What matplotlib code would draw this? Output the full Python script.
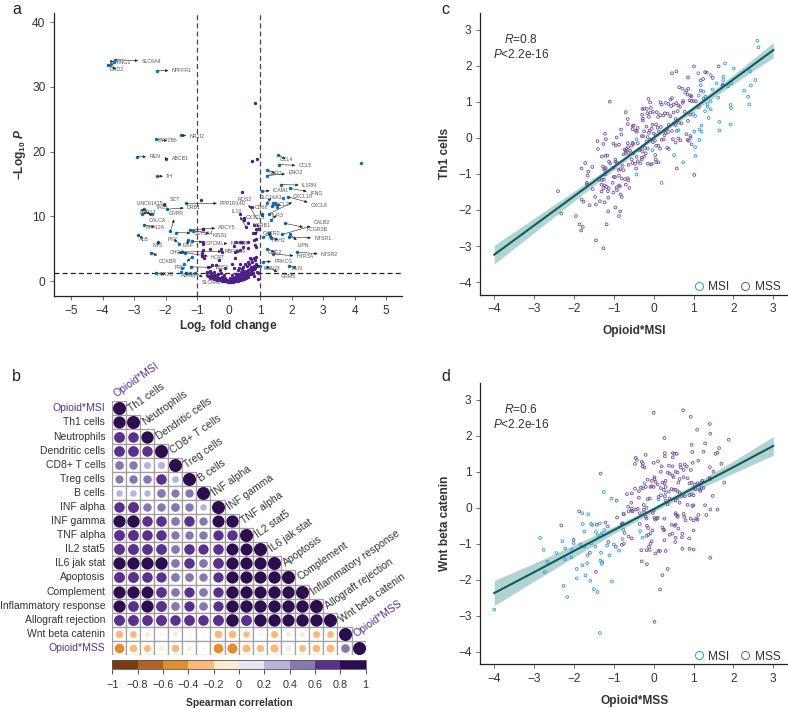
import numpy as np
import matplotlib
matplotlib.use("Agg")
import matplotlib.pyplot as plt
from matplotlib.colors import ListedColormap, BoundaryNorm
from matplotlib.cm import ScalarMappable
from matplotlib.lines import Line2D
from matplotlib.patches import Rectangle

plt.rcParams["font.family"] = ["Liberation Sans", "DejaVu Sans"]
plt.rcParams["mathtext.fontset"] = "custom"
plt.rcParams["mathtext.rm"] = "Liberation Sans"
plt.rcParams["mathtext.it"] = "Liberation Sans:italic"
plt.rcParams["mathtext.bf"] = "Liberation Sans:bold"
plt.rcParams["mathtext.bfit"] = "Liberation Sans:italic:bold"

W, H = 788, 709
TXT = "#333333"
BLUE = "#0b78be"
PURPLE = "#4b1f86"
RING_BLUE = "#2e9bd6"
RING_PURPLE = "#75509f"
LINE = "#0b5f5c"
BAND = "#b3d3d2"

# panel a, volcano plot
volcano_sig = [(-3.84,33.4),(-3.74,33.6),(-3.60,34.2),(-3.65,33.9),(-2.26,32.5),(-1.52,22.5),(-2.29,21.9),(-2.91,19.2),
    (-1.98,18.9),(-2.27,16.2),(-2.05,11.8),(-1.96,11.1),(-1.36,12.0),(-2.70,11.1),(-2.74,10.4),(-2.44,10.4),(-2.68,8.7),
    (-2.87,7.1),(-2.23,6.1),(-1.85,7.7),(-1.67,7.5),(-1.24,7.9),(-1.12,7.8),(-1.57,5.8),(-1.30,6.3),(-1.17,6.2),(-1.49,4.5),
    (-1.38,4.4),(-2.46,4.4),(-1.17,3.7),(-1.20,2.2),(-1.43,2.6),(-1.51,1.4),(-2.30,1.3),(-1.35,1.2),(-1.06,1.3),(-1.22,1.2),
    (-1.49,2.0),(1.57,19.5),(1.59,18.0),(1.23,17.2),(1.23,16.3),(4.21,18.2),(1.65,14.9),(1.95,14.3),(1.05,13.9),(1.74,12.9),
    (1.88,13.0),(1.21,12.1),(1.40,12.1),(1.47,12.1),(1.55,11.5),(1.37,11.6),(1.07,10.4),(1.29,10.4),(1.35,9.5),(1.80,8.9),
    (1.70,7.2),(1.95,7.2),(1.90,6.8),(1.29,7.4),(1.32,6.9),(1.34,6.6),(1.10,6.8),(1.23,5.0),(1.40,4.2),(2.16,4.5),(1.10,3.0),
    (1.93,2.4),(1.00,2.3),(1.21,2.2)]

volcano_ns = [(-.87,12.6),(-.80,8.1),(-.80,5.8),(-.80,4.8),(-.78,3.5),(.84,27.5),(.74,18.5),(.91,18.9),(.43,13.7),(.75,11.4),
    (.37,10.4),(.49,9.5),(.55,8.4),(.82,8.7),(.87,8.1),(.83,7.4),(.86,6.5),(.42,6.1),(.24,6.0),(.45,5.3),(.26,4.7),(.50,9.7),
    (.63,8.9),(.77,7.5),(.95,8.1),(.79,6.3),(.61,6.1),(.61,5.1),(.84,5.6),(.87,5.2),(.37,6.0),(.18,5.45),(.37,4.8),(.21,4.5),
    (-.22,4.5),(-.24,5.0),(-.59,5.0),(-.83,4.4),(-.83,3.9),(-.82,6.1),(-.81,8.0),(-.32,3.2),(.21,3.5),(.10,2.6),(.37,2.6),
    (.18,2.1),(.29,1.7),(.45,2.2),(.58,2.3),(.74,3.0),(.79,3.5),(.87,3.75),(.68,3.5),(.80,2.4),(.87,2.7),(.63,1.7),(.74,1.7),
    (.50,1.55),(.39,1.4),(.89,1.4),(.97,1.2),(.93,.4),(.80,.75),(-.53,2.45),(-.64,2.2),(-.41,2.45),(-.13,2.05),(-.27,1.7),
    (-.48,1.4),(-.69,.9),(-.65,.85),(-.6,.75),(-.58,.55),(-.55,.65),(-.5,.55),(-.48,.35),(-.45,.45),(-.42,.3),(-.4,.4),(-.36,.2),
    (-.34,.3),(-.3,.15),(-.28,.25),(-.25,.1),(-.22,.2),(-.2,.05),(-.17,.12),(-.14,0.0),(-.12,.08),(-.09,-.05),(-.06,.03),
    (-.03,-.08),(0,0),(.02,-.1),(.05,-.02),(.08,-.1),(.1,-.02),(.13,-.08),(.16,.02),(.18,-.05),(.21,.08),(.24,0),(.26,.12),
    (.29,.05),(.31,.18),(.34,.1),(.36,.25),(.39,.18),(.41,.35),(.44,.28),(.46,.45),(.49,.35),(.51,.6),(.54,.5),(.56,.75),(.6,.65),
    (.63,.9),(.45,.8),(.4,.65),(.33,.55),(.28,.4),(.5,1.0),(.55,1.2),(.3,.75),(-.3,.55),(-.38,.7),(-.25,.45),(-.44,.95),
    (-.15,.3),(-.1,.2),(.12,.15),(.2,.3),(-.52,.95),(-.46,.75),(-.35,.5),(-.2,.35),(-.05,.2),(.03,.12),(.07,.22),(.15,.2),
    (.24,.3),(.3,.38),(.36,.45),(.42,.55),(.48,.75),(.53,.95),(.58,1.05),(.62,1.25),(.66,1.1),(.7,1.35),(.72,1.05),(.77,1.3),
    (.43,1.05),(.36,.95),(.3,1.05),(.26,.85),(.2,.6),(.14,.45),(.47,1.25),(.52,1.4),(.57,1.55),(.67,1.9),(.7,2.2),(.76,2.0),
    (.82,1.9),(.84,2.1),(.9,2.3),(.84,3.2),(.72,3.4),(.66,2.7),(.6,2.9),(.53,2.6),(.42,1.8),(.33,2.1),(.24,1.1),(-.12,.55),
    (-.22,.7),(-.4,.85),(-.34,1.15),(-.56,1.25),(-.6,1.5),(-.7,1.35),(-.25,1.25),(-.16,1.0),(.05,.45),(.1,.9)]

# gene, point x, point y, label x, label y
gene_labels = [("SLC6A4",-3.60,34.2,-2.46,33.95),("KNG1",-3.65,33.9,-3.33,33.8),("DRD2",-3.84,33.4,-3.56,32.7),
    ("NPFFR1",-2.26,32.5,-1.49,32.5),("NR1I2",-1.52,22.5,-1.01,22.4),("CYP2B6",-2.29,21.9,-1.93,21.65),("REN",-2.91,19.2,-2.34,19.2),
    ("ABCB1",-1.98,18.9,-1.54,18.9),("TH",-2.27,16.2,-1.87,16.2),("SCT",-2.05,11.8,-1.70,12.65),("LINC01415",-2.70,11.1,-2.49,12.05),
    ("TAC1",-2.44,10.4,-2.11,11.3),("DRB1",-1.96,11.1,-1.10,11.4),("PPP1R14D",-1.36,12.0,.15,12.0),("BPR13",-2.74,10.4,-2.56,10.6),
    ("GRPR",-1.85,7.7,-1.67,10.4),("CALCA",-2.70,11.1,-2.25,9.4),("ATP12A",-2.68,8.7,-2.33,8.3),("ALB",-2.87,7.1,-2.69,6.5),
    ("NTS",-2.23,6.1,-2.25,5.45),("PYY",-1.57,5.8,-1.76,6.5),("EGF",-1.30,6.3,-1.30,5.5),("CHGA",-1.38,4.4,-1.63,4.4),
    ("CCKBR",-2.46,4.4,-1.92,3.1),("PRG",-1.17,3.7,-1.52,2.15),("HTR2C",-2.30,1.3,-2.02,.95),("ADAM",-1.35,1.2,-1.28,.9),
    ("SLC6A2",-1.06,1.3,-.53,-.25),("ADCY5",-1.24,7.9,-.05,8.3),("SST1A4",-1.67,7.5,-.80,7.35),("KISS1",-1.12,7.8,-.27,7.0),
    ("OPCML",-1.17,6.2,-.43,5.8),("RBFOX3",-1.49,4.5,.21,4.6),("NPY1R",-.12,5.8,.34,5.8),("HCRT",-1.38,4.4,-.33,3.6),
    ("BSS1",-1.20,2.2,-.20,2.1),("CCL4",1.57,19.5,1.82,18.8),("CCL5",1.59,18.0,2.43,17.8),("SSR2",1.23,17.2,1.49,16.6),
    ("ENO2",1.23,16.3,2.12,16.7),("IL1RN",1.65,14.9,2.56,14.8),("ICAM1",1.05,13.9,1.66,14.0),("IFNG",1.95,14.3,2.78,13.6),
    ("SLC16A3",1.21,12.1,1.36,12.9),("CXCL10",1.29,10.4,2.36,13.0),("CXCL2",1.37,11.6,1.67,11.8),("CXCL8",1.88,13.0,2.88,11.7),
    ("TLR3",1.35,9.5,1.53,10.2),("CD68",1.07,10.4,1.05,11.3),("CALB2",1.70,7.2,2.96,9.0),("FCGR3B",1.80,8.9,2.80,7.9),
    ("NTSR1",1.90,6.8,2.99,6.6),("HRH2",1.32,6.9,1.58,6.3),("LIPN",1.95,7.2,2.36,5.45),("OXTR2",1.10,6.8,1.37,7.4),
    ("GNE2",1.23,5.0,1.48,4.4),("HTR3A",1.40,4.2,2.43,3.75),("NTSR2",2.16,4.5,3.2,4.05),("PRKCG",1.10,3.0,1.74,3.0),
    ("KCNJ3",1.00,2.3,1.37,1.9),("MLN",1.93,2.4,2.17,1.95),("GRM5",1.21,2.2,1.89,.65),("ROS2",.92,9.5,.52,12.65),
    ("IL10",.55,8.4,.26,10.8),("CX3CL1",.95,8.1,.86,9.8),("NGRB1",.87,7.4,1.05,8.6)]

volcano_xticks = [-5,-4,-3,-2,-1,0,1,2,3,4,5]
volcano_yticks = [0,10,20,30,40]

# panel b, Spearman correlation matrix (lower triangle)
corr_names = ["Opioid*MSI","Th1 cells","Neutrophils","Dendritic cells","CD8+ T cells","Treg cells","B cells","INF alpha",
    "INF gamma","TNF alpha","IL2 stat5","IL6 jak stat","Apoptosis","Complement","Inflammatory response","Allograft rejection",
    "Wnt beta catenin","Opioid*MSS"]
corr_rows = [
    [1],
    [.88,1],
    [.7,.65,.9],
    [.68,.68,.65,1],
    [.45,.42,.3,.3,1],
    [.4,.42,.42,.65,.28,1],
    [.25,.25,.25,.45,.4,.42,1],
    [.65,.7,.42,.42,.45,.42,.25,1],
    [.88,.9,.65,.65,.45,.65,.42,.85,.9],
    [.7,.7,.65,.65,.42,.42,.42,.62,.65,1],
    [.7,.7,.68,.68,.45,.65,.62,.65,.85,.85,1],
    [.88,.88,.88,.9,.45,.65,.45,.68,.88,.88,.88,1],
    [.7,.7,.65,.62,.45,.45,.42,.62,.88,.88,.88,.9,1],
    [.88,.88,.85,.68,.45,.62,.45,.62,.9,.88,.88,.9,.9,1],
    [.88,.68,.88,.7,.45,.62,.45,.62,.9,.9,.9,.9,.9,.9,1],
    [.7,.7,.68,.7,.65,.68,.65,.7,.92,.7,.9,.9,.88,.9,.9,1],
    [-.35,-.28,-.15,.03,-.13,.02,.02,-.35,-.35,-.25,-.05,-.3,-.15,-.15,-.28,-.28,1],
    [-.55,-.35,-.3,-.15,-.35,-.12,.02,-.55,-.6,-.38,-.32,-.4,-.15,-.28,-.35,-.38,.45,1],
]
corr_colors = ["#7a3b12","#b3612a","#e08f2e","#fdb97a","#fdebd0","#e6e6f0","#b8b3d8","#8878b0","#5a308a","#2c0e50"]
corr_bounds = [-1,-.8,-.6,-.4,-.2,0,.2,.4,.6,.8,1]
corr_ticklabels = ["\u22121","\u22120.8","\u22120.6","\u22120.4","\u22120.2","0","0.2","0.4","0.6","0.8","1"]

# panel c
c_msi = [(2.60,2.69),(2.63,2.51),(2.01,1.92),(1.79,2.06),(1.12,1.79),(1.43,1.74),(1.75,1.69),(1.75,1.60),(2.42,1.85),(2.55,1.60),
    (2.44,1.45),(2.27,1.31),(2.37,1.14),(2.40,.93),(1.93,.91),(1.94,.82),(1.93,.37),(1.65,.20),(1.65,.44),(1.62,1.11),(1.18,1.46),
    (1.25,1.28),(1.58,1.51),(1.48,1.34),(1.30,1.14),(1.13,1.17),(1.43,1.01),(1.35,.93),(1.35,.86),(1.29,.74),(1.43,.79),(1.38,.55),
    (.79,1.25),(.30,.97),(1.0,.66),(1.04,.60),(1.20,.34),(1.15,.23),(1.20,.17),(1.02,.17),(.93,0),(1.15,-.06),(1.04,-.26),(1.05,-.50),
    (.51,-.48),(.74,-.68),(.62,.21),(.58,.19),(.20,-1.25),(-.43,-1.02),(-.07,-.74),(-.43,-.04),(-.03,-.34),(1.87,1.43),(1.94,1.51)]
c_mss = [(-2.40,-1.48),(-2.32,-2.10),(-1.95,-2.17),(-1.86,-2.40),(-1.78,-2.47),(-1.82,-2.57),(-1.45,-2.84),(-1.26,-3.06),(-1.18,-2.40),
    (-1.14,-2.04),(-.96,-1.93),(-.84,-2.04),(-.87,-2.17),(-1.81,-.85),(-1.72,-.70),(-1.64,-.94),(-1.66,-1.05),(-1.68,-1.25),(-1.67,-1.30),
    (-1.53,-1.42),(-1.47,-1.64),(-1.81,-1.71),(-1.76,-1.77),(-1.61,-1.87),(-1.45,-1.85),(-1.35,-1.76),(-1.23,-1.79),(-1.54,-.81),(-1.41,-.09),
    (-1.40,-.31),(-1.26,-.17),(-1.22,.11),(-1.20,-.04),(-1.10,1.0),(-.93,.01),(-1.01,-.16),(-.95,-.21),(-.87,-.19),(-.81,.09),(-.82,.23),
    (-.70,.71),(-.65,.52),(-.65,.38),(-.53,.33),(-.53,.24),(-1.30,-.52),(-1.21,-.50),(-1.16,-.49),(-1.27,-.80),(-1.24,-.86),(-1.22,-.90),
    (-1.20,-.84),(-1.12,-.66),(-1.09,-.71),(-1.01,-.83),(-.96,-.61),(-.96,-.67),(-.92,-.69),(-.88,-.89),(-.84,-.87),(-.78,-.78),(-.76,-.90),
    (-.75,-.46),(-.73,-.33),(-.70,-.36),(-.70,-.42),(-.68,-.31),(-.65,-.15),(-.64,-.26),(-.63,-.42),(-.59,-.36),(-.55,-.22),(-.53,-.14),
    (-.51,-.17),(-.51,-.43),(-.55,-.60),(-.53,-.70),(-.47,-.72),(-.43,-.53),(-.40,-.65),(-.34,-.71),(-.30,-.60),(-.30,-.55),(-.36,-.35),
    (-.28,-.38),(-.24,-.52),(-.20,-.43),(-1.22,-1.01),(-1.25,-1.16),(-1.31,-1.30),(-1.23,-1.32),(-1.31,-1.49),(-1.26,-1.40),(-1.18,-1.36),
    (-1.13,-1.40),(-1.15,-1.48),(-1.14,-1.66),(-1.03,-1.25),(-1.00,-1.08),(-.97,-1.09),(-.93,-1.38),(-.92,-1.45),(-.87,-1.32),(-.87,-1.05),
    (-.80,-1.13),(-.72,-1.15),(-.65,-1.12),(-.64,-1.18),(-.70,-1.30),(-.61,-1.39),(-.83,-1.57),(-.80,-1.64),(-1.01,-1.52),(-.85,-1.35),
    (-1.37,-1.16),(-1.30,-1.17),(-.63,-.75),(-.44,-.85),(-.15,-.72),(-.05,-.73),(.06,-.68),(.12,-.68),(.05,-.60),(.04,-.48),(.12,-.22),
    (.16,-.30),(.34,-.28),(.38,-.31),(-.50,.34),(-.45,.20),(-.42,.17),(-.40,.27),(-.29,.64),(-.28,.53),(-.27,.48),(-.24,.81),(-.28,.80),
    (-.17,.80),(-.13,1.08),(-.09,.98),(-.07,.83),(-.16,.68),(-.08,.70),(-.12,.58),(-.02,.72),(.08,.71),(.11,.58),(.16,.63),(.20,.92),
    (.17,.98),(.28,.68),(.24,.62),(.35,.67),(.46,1.10),(.42,1.06),(.37,.94),(.44,.88),(.50,.92),(.57,.96),(.60,.74),(.50,.70),(.42,.60),
    (.55,.52),(.38,.36),(.33,.25),(.26,.20),(.18,.30),(.10,.28),(.06,.37),(-.03,.36),(-.05,.25),(-.10,.20),(-.18,.31),(-.24,.18),(-.30,.05),
    (-.26,.04),(-.15,.02),(-.12,.14),(0,.12),(.05,.07),(.13,.17),(.27,.07),(.30,.13),(.36,.16),(.46,.19),(.55,.35),(.50,.40),(.58,.47),
    (.63,.42),(.25,-.05),(.20,-.05),(.03,-.08),(-.02,-.12),(-.09,-.05),(-.18,-.10),(-.22,-.28),(-.33,-.30),(-.40,-.15),(-.15,-.30),(.06,-.22),
    (.55,-.13),(.62,-.02),(.67,-.07),(.48,-.04),(.58,-.85),(.46,1.79),(.57,1.84),(1.01,1.98),(1.63,1.98),(1.29,1.82),(1.33,1.81),(.86,1.67),
    (1.24,1.63),(1.18,1.59),(1.48,1.66),(.64,1.40),(.72,1.36),(.82,1.31),(.87,1.36),(.85,1.20),(.92,1.17),(.95,1.15),(1.18,1.31),(.74,1.02),
    (.73,.97),(.90,1.04),(.95,1.02),(1.00,1.02),(1.06,1.01),(.62,.90),(.66,.86),(.78,.72),(.92,.64),(.70,.40),(.86,.47),(1.13,.85),(1.25,1.09),
    (.82,.10),(.92,.05),(.88,-.08),(.95,-.18),(.85,-.06),(1.02,-1.03),(1.73,1.47),(1.73,1.45)]
c_fit_x = [-4,-3,-2,-1,0,1,2,3]
c_fit_y = [-3.24,-2.43,-1.62,-.81,0,.81,1.62,2.43]
c_fit_lo = [-3.50,-2.63,-1.76,-.89,-.05,.73,1.49,2.22]
c_fit_hi = [-2.98,-2.23,-1.48,-.73,.05,.89,1.75,2.64]

# panel d
d_msi = [(-4.0,-2.83),(-2.85,-.84),(-2.76,-1.17),(-2.67,-1.50),(-2.73,-1.79),(-2.44,-1.26),(-2.29,-.93),(-2.22,-1.13),(-2.22,-1.43),
    (-2.26,-2.17),(-2.17,-2.48),(-2.07,-1.38),(-2.05,-1.17),(-2.01,-.98),(-1.93,-1.70),(-1.93,-1.96),(-1.84,-1.02),(-1.78,-.45),(-1.79,-.15),
    (-1.64,-.18),(-1.74,-.66),(-1.74,-1.08),(-1.79,-1.60),(-1.71,-1.88),(-1.67,-1.54),(-1.66,-1.32),(-1.57,-.99),(-1.57,-.45),(-1.54,-.48),
    (-1.59,-2.03),(-1.50,-2.26),(-1.41,-2.34),(-1.35,-3.48),(-1.46,-1.08),(-1.45,-.67),(-1.40,-.76),(-1.35,-.44),(-1.32,-1.25),(-1.34,-1.47),
    (-1.29,-1.50),(-1.30,-1.56),(-1.30,-.71),(-1.24,-.62),(-1.25,.44),(-1.17,-1.05),(-1.11,-1.32),(-1.05,-2.05),(-1.06,.25),(-1.0,-1.02),
    (-.87,-1.19),(-.78,-.87),(-.76,-.61),(-.76,-.16),(-.78,-.43),(-.34,-.65),(-.28,-.83),(-.23,.68),(-.08,-.71),(.12,.23),(.30,.42)]
d_mss = [(-2.32,-.49),(-2.01,-.89),(-1.87,-.10),(-1.60,-1.25),(-1.45,-1.78),(-1.33,.95),(-1.43,-.47),(-1.21,-.41),(-1.15,-.52),(-1.14,-.95),
    (-.95,-1.08),(-.93,.20),(-.92,-.27),(-.80,-.45),(-.78,-.44),(-.73,-.70),(-.80,-1.03),(-.75,-1.00),(-.75,-.18),(-.67,.38),(-.64,.03),
    (-.63,-.10),(-.56,.14),(-.55,.40),(-.55,-.02),(-.55,-.08),(-.63,-.80),(-.55,-.85),(-.53,-.10),(-.45,-.05),(-.47,.53),(-.37,.46),(-.32,.56),
    (-.27,.54),(-.47,1.22),(-.45,1.39),(-.42,1.33),(-.30,1.28),(-.27,1.23),(-.28,1.15),(-.20,1.47),(-.23,1.12),(-.37,.28),(-.40,-.03),
    (-.35,-.15),(-.35,-.45),(-.31,-1.18),(-.30,-1.49),(-.18,-1.18),(-.17,-1.57),(-.10,-1.17),(-.12,-1.08),(-.08,-1.00),(-.05,-.93),(-.18,-.78),
    (-.13,-.75),(-.17,-.50),(-.14,-.56),(-.03,-.63),(-.25,-.05),(-.24,-.12),(-.20,-.25),(-.18,-.30),(-.25,.08),(-.18,0),(-.15,.24),(-.10,.26),
    (-.08,.58),(-.05,.60),(-.20,.58),(-.15,.78),(-.05,.75),(0,.58),(.02,.85),(0,-.07),(-.02,-.15),(.02,-.28),(0,1.25),(.11,1.29),(0,2.64),
    (.02,-3.17),(.16,-2.27),(.22,-1.87),(.35,-1.70),(.16,-1.20),(.12,-1.20),(.04,-1.27),(.30,-1.20),(.27,-.90),(.40,-.75),(.47,-.72),(.54,-.95),
    (.55,-.83),(.62,-.58),(.72,-.72),(.71,-.82),(.72,-1.14),(.90,-1.14),(1.00,-1.16),(.89,-.85),(1.00,-.63),(1.00,-.35),(1.07,-.30),(1.10,-.33),
    (1.42,-1.39),(.25,-.60),(.22,-.55),(.26,-.62),(.45,-.47),(.53,-.50),(.55,-.47),(.27,-.30),(.10,-.28),(.08,-.30),(.04,-.33),(.55,-.15),
    (.56,-.20),(.60,-.25),(.77,-.25),(.75,-.17),(.80,-.35),(.60,-.22),(.93,-.30),(1.12,-.20),(1.32,-.20),(1.42,-.05),(1.6,-.05),(1.29,.07),
    (1.0,.07),(.97,.05),(.85,.08),(.65,.14),(.60,.28),(.55,.20),(.30,.20),(.40,.26),(.35,.10),(.28,.32),(.12,.30),(.18,.35),(.25,.50),(.30,.58),
    (.38,.45),(.45,.52),(.50,.50),(.55,.50),(.60,.46),(.65,.42),(.70,.33),(.78,.32),(.90,.35),(.95,.37),(1.0,.35),(1.0,.55),(1.05,.52),(1.15,.50),
    (1.17,.47),(1.20,.55),(1.25,.55),(1.10,.68),(1.15,.65),(1.20,.70),(1.22,.75),(1.03,.65),(.95,.70),(.90,.68),(.85,.82),(.75,.85),(.65,.80),
    (.62,.70),(.50,.85),(.55,1.00),(.60,.98),(.47,.90),(.40,.95),(.35,.98),(.30,.75),(.22,.70),(.27,.68),(.18,.55),(.10,.65),(.05,.72),(.02,.80),
    (1.42,.80),(1.40,.83),(1.50,1.00),(1.70,1.22),(1.77,.70),(1.48,.33),(1.41,1.13),(1.12,1.31),(.98,1.25),(.83,1.15),(.78,1.20),(.67,1.20),
    (.68,1.12),(.93,1.05),(.75,1.05),(.47,1.15),(.38,1.17),(.20,1.15),(.18,1.0),(.28,1.52),(.28,1.43),(.48,1.52),(.52,1.50),(.58,1.50),(.48,1.40),
    (.97,1.55),(.95,1.75),(.27,1.94),(1.29,1.79),(1.25,1.56),(1.55,1.50),(1.60,1.53),(1.64,1.66),(1.88,1.89),(1.42,2.06),(1.41,2.33),(1.09,2.17),
    (.93,2.53),(.74,2.71)]
d_fit_x = [-4,-3,-2,-1,0,1,2,3]
d_fit_y = [-2.37,-1.79,-1.20,-.62,-.04,.55,1.13,1.72]
d_fit_lo = [-2.72,-2.04,-1.37,-.72,-.11,.45,.96,1.46]
d_fit_hi = [-2.02,-1.54,-1.03,-.52,.03,.65,1.30,1.98]

scatter_ticks = [-4,-3,-2,-1,0,1,2,3]


def add_axes_px(fig, left, top, right, bottom):
    return fig.add_axes([left / W, 1 - bottom / H, (right - left) / W, (bottom - top) / H])


def minus(v):
    return str(v).replace("-", "\u2212")


def style_axes(ax):
    ax.spines[["top", "right"]].set_visible(False)
    ax.spines[["left", "bottom"]].set_linewidth(0.9)
    ax.spines[["left", "bottom"]].set_color("#222222")
    ax.tick_params(length=3.2, width=0.6, color="#555555", labelsize=8.6, labelcolor=TXT, pad=3)


def scatter_panel(ax, msi, mss, fit_x, fit_y, lo, hi, r_text, xlabel, ylabel):
    ax.fill_between(fit_x, lo, hi, color=BAND, lw=0, zorder=1)
    ax.scatter(*zip(*msi), s=4, facecolors="none", edgecolors=RING_BLUE, linewidths=0.6, zorder=2)
    ax.scatter(*zip(*mss), s=4, facecolors="none", edgecolors=RING_PURPLE, linewidths=0.6, zorder=2)
    ax.plot(fit_x, fit_y, color=LINE, lw=1.5, zorder=3)
    ax.set_xlim(-4.35, 3.37)
    ax.set_ylim(-4.35, 3.46)
    ax.set_xticks(scatter_ticks, [minus(t) for t in scatter_ticks])
    ax.set_yticks(scatter_ticks, [minus(t) for t in scatter_ticks])
    style_axes(ax)
    ax.set_xlabel(xlabel, fontweight="bold", fontsize=8.6, color=TXT, labelpad=7)
    ax.set_ylabel(ylabel, fontweight="bold", fontsize=8.6, color=TXT, labelpad=5)
    ax.text(-3.33, 2.72, "$\\mathit{R}$=" + r_text, ha="center", va="center", fontsize=8.6, color=TXT)
    ax.text(-3.33, 2.32, "$\\mathit{P}$<2.2e-16", ha="center", va="center", fontsize=8.6, color=TXT)
    handles = [Line2D([], [], ls="", marker="o", ms=5.8, mfc="none", mec=RING_BLUE, mew=0.7),
               Line2D([], [], ls="", marker="o", ms=5.8, mfc="none", mec=RING_PURPLE, mew=0.7)]
    ax.legend(handles, ["MSI", "MSS"], ncol=2, frameon=False, fontsize=8.6, labelcolor=TXT, loc="lower right",
              bbox_to_anchor=(0.975, 0.006), handlelength=1.0, handletextpad=0.28, columnspacing=0.85,
              borderaxespad=0, borderpad=0)


fig = plt.figure(figsize=(W / 100, H / 100), dpi=100)

# a
ax = add_axes_px(fig, 54, 13, 402, 296)
ax.scatter(*zip(*volcano_ns), s=6, color=PURPLE, lw=0, zorder=2)
ax.scatter(*zip(*volcano_sig), s=6.5, color=BLUE, lw=0, zorder=3)
for v in (-1, 1):
    ax.axvline(v, color="#444444", lw=0.9, ls=(0, (4, 2.5)), zorder=1)
ax.axhline(1.3, color="#222222", lw=0.9, ls=(0, (4, 2.5)), zorder=1)
for gene, px, py, lx, ly in gene_labels:
    ax.annotate(gene, xy=(px, py), xytext=(lx, ly), ha="center", va="center", fontsize=3.8, color="#555555", zorder=4,
                arrowprops=dict(arrowstyle="<|-,head_length=0.5,head_width=0.22", lw=0.4, color="#222222",
                                shrinkA=0.3, shrinkB=0, mutation_scale=3.5))
ax.set_xlim(-5.54, 5.5)
ax.set_ylim(-2.3, 41.4)
ax.set_xticks(volcano_xticks, [minus(t) for t in volcano_xticks])
ax.set_yticks(volcano_yticks)
style_axes(ax)
ax.set_xlabel("Log$_{\\mathbf{2}}$ fold change", fontweight="bold", fontsize=8.6, color=TXT, labelpad=1)
ax.set_ylabel("\u2212Log$_{\\mathbf{10}}$ $\\mathbfit{P}$", fontweight="bold", fontsize=8.6, color=TXT, labelpad=3)

# b
ax = add_axes_px(fig, 111.7, 401.3, 365.7, 655)
ax.set_xlim(0, 18)
ax.set_ylim(18, 0)
ax.axis("off")
cmap = ListedColormap(corr_colors)
norm = BoundaryNorm(corr_bounds, cmap.N)
for i, row in enumerate(corr_rows):
    for j, r in enumerate(row):
        ax.add_patch(Rectangle((j, i), 1, 1, fc="white", ec="#a0a0a0", lw=0.9, zorder=1))
        ax.scatter(j + 0.5, i + 0.5, s=88 * abs(r), color=cmap(norm(min(r, 0.999))), lw=0, zorder=2)
    col = "#5a308a" if corr_names[i].startswith("Opioid") else TXT
    ax.text(-0.45, i + 0.5, corr_names[i], ha="right", va="center", fontsize=7.5, color=col, clip_on=False)
    ax.text(i + 0.42, i - 0.15, corr_names[i], ha="left", va="bottom", rotation=35, rotation_mode="anchor",
            fontsize=7.5, color=col, clip_on=False)

cax = add_axes_px(fig, 112.3, 660, 365.7, 669)
cb = fig.colorbar(ScalarMappable(norm=norm, cmap=cmap), cax=cax, orientation="horizontal", ticks=corr_bounds, spacing="proportional")
cb.outline.set_linewidth(0.6)
cb.outline.set_edgecolor("#555555")
cb.dividers.set_visible(False)
cax.set_xticks(corr_bounds, corr_ticklabels)
cax.minorticks_off()
cax.tick_params(length=3.5, width=0.7, color="#555555", labelsize=7.8, labelcolor=TXT, pad=4.5)
cax.set_xlabel("Spearman correlation", fontweight="bold", fontsize=7.4, color=TXT, labelpad=6)

# c, d
ax = add_axes_px(fig, 480.3, 13, 788, 294.7)
scatter_panel(ax, c_msi, c_mss, c_fit_x, c_fit_y, c_fit_lo, c_fit_hi, "0.8", "Opioid*MSI", "Th1 cells")
ax = add_axes_px(fig, 480.3, 383.3, 788, 664.3)
scatter_panel(ax, d_msi, d_mss, d_fit_x, d_fit_y, d_fit_lo, d_fit_hi, "0.6", "Opioid*MSS", "Wnt beta catenin")

for letter, x, y in [("a", 12, 9), ("b", 12, 377), ("c", 441, 9), ("d", 441, 377)]:
    fig.text(x / W, 1 - y / H, letter, fontsize=11.5, color="#222222", ha="left", va="center")

fig.savefig("out.png", dpi=100)
